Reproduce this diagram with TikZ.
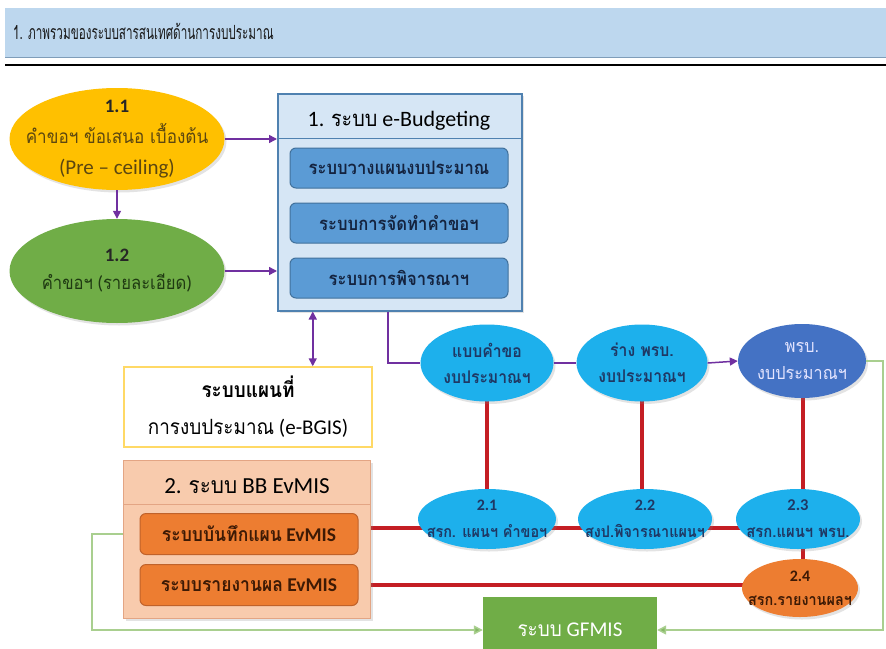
\documentclass[tikz,border=0pt]{standalone}
\usepackage{fontspec}
\setmainfont{Carlito}
\newfontfamily\thf[Script=Thai,FakeStretch=0.9]{Loma}
\newfontfamily\thhead[Script=Thai,FakeStretch=0.6]{Loma}
\usetikzlibrary{shapes.geometric,arrows.meta,backgrounds,shadows}
\definecolor{hdrf}{HTML}{BDD7EE}
\definecolor{hdrb}{HTML}{7F9DB9}
\definecolor{yel}{HTML}{FFC000}
\definecolor{yeltxt}{HTML}{5C4710}
\definecolor{grn}{HTML}{70AD47}
\definecolor{grntxt}{HTML}{1F3A12}
\definecolor{purp}{HTML}{7030A0}
\definecolor{ebf}{HTML}{D6E6F5}
\definecolor{ebb}{HTML}{4F81B0}
\definecolor{ibf}{HTML}{5B9BD5}
\definecolor{ibb}{HTML}{41719C}
\definecolor{ibtxt}{HTML}{14233F}
\definecolor{bgisb}{HTML}{FFD966}
\definecolor{evf}{HTML}{F8CBAD}
\definecolor{evb}{HTML}{E3A584}
\definecolor{org}{HTML}{ED7D31}
\definecolor{orgb}{HTML}{C0622A}
\definecolor{orgtxt}{HTML}{3D1A05}
\definecolor{lblue}{HTML}{1DB0EC}
\definecolor{lbtxt}{HTML}{1F3864}
\definecolor{dblue}{HTML}{4472C4}
\definecolor{redl}{HTML}{C41E24}
\definecolor{gline}{HTML}{A9CF8F}
\definecolor{garr}{HTML}{86B866}
\begin{document}
\begin{tikzpicture}[x=1pt,y=-1pt,
  shad/.style={drop shadow={opacity=0.22,shadow xshift=2pt,shadow yshift=-2.5pt}},
  ell/.style={ellipse,inner sep=0pt,shad},
  etxt/.style={inner sep=0pt,align=center},
  ibox/.style={draw=ibb,line width=1pt,fill=ibf,rounded corners=6pt,minimum width=218pt,minimum height=40pt,text=ibtxt,font=\thf\bfseries\fontsize{18.5}{20}\selectfont},
  obox/.style={draw=orgb,line width=1pt,fill=org,rounded corners=6pt,minimum width=218pt,minimum height=41pt,text=orgtxt,font=\bfseries\fontsize{19.5}{22}\selectfont},
  parr/.style={draw=purp,line width=1.5pt,-{Triangle[length=8pt,width=8pt]}},
  pline/.style={draw=purp,line width=1.5pt},
  redline/.style={draw=redl,line width=4pt},
  gar/.style={draw=gline,line width=1.5pt,-{Triangle[length=9pt,width=9pt,fill=garr]}}
]
\useasboundingbox (0,0) rectangle (886,648);
% header
\node[fill=hdrf,minimum width=881pt,minimum height=49pt,inner sep=0pt,anchor=north west] (hdr) at (5,8) {};
\draw[hdrb,line width=1.5pt] (hdr.south west) -- (hdr.south east);
\node[anchor=west,inner sep=0pt,font=\thhead\fontsize{19.5}{22}\selectfont,text=black!90] (hdrtxt) at (13,31) {1. ภาพรวมของระบบสารสนเทศด้านการงบประมาณ};
\coordinate (rl) at (5,65);
\coordinate (rr) at (886,65);
\draw[black,line width=2pt] (rl) -- (rr);

% ellipses left
\node[ell,fill=yel,minimum width=215pt,minimum height=102pt] (n11) at (117,139) {};
\node[etxt,text=yeltxt,font=\fontsize{21}{31}\selectfont] (n11t) at (n11.center)
  {\textcolor{black!85}{\bfseries\fontsize{19}{31}\selectfont 1.1}\\{\thf\fontsize{19}{31}\selectfont คำขอฯ ข้อเสนอ เบื้องต้น}\\(Pre -- ceiling)};
\node[ell,fill=grn,minimum width=215pt,minimum height=104pt] (n12) at (117,271) {};
\node[etxt,text=grntxt,font=\fontsize{19}{28}\selectfont] (n12t) at (n12.center)
  {\textcolor{black!85}{\bfseries 1.2}\\{\thf\fontsize{18.5}{28}\selectfont คำขอฯ} ({\thf\fontsize{18.5}{28}\selectfont รายละเอียด})};

% e-Budgeting box
\node[draw=ebb,line width=1.5pt,fill=ebf,minimum width=244pt,minimum height=217pt,inner sep=0pt,anchor=north west,shad] (ebud) at (277,93) {};
\node[font=\fontsize{22}{24}\selectfont,text=black] (ebudt) at (399,121) {1. {\thf ระบบ} e-Budgeting};
\coordinate (ebsep) at (0,138);
\draw[ebb,line width=1pt] (ebud.west |- ebsep) -- (ebud.east |- ebsep);
\node[ibox] (ib1) at (399,168) {ระบบวางแผนงบประมาณ};
\node[ibox] (ib2) at (399,223) {ระบบการจัดทำคำขอฯ};
\node[ibox] (ib3) at (399,278) {ระบบการพิจารณาฯ};

\draw[parr] (n11.east) -- (n11.east -| ebud.west);
\draw[parr] (n12.east) -- (n12.east -| ebud.west);
\draw[parr] (n11.south) -- (n12.north);

% e-BGIS
\node[draw=bgisb,line width=1.5pt,fill=white,minimum width=248pt,minimum height=80pt,align=center,font=\fontsize{21}{37}\selectfont,text=black] (bgis) at (248,407)
  {{\thf\bfseries ระบบแผนที่}\\{\thf การงบประมาณ} (e-BGIS)};
\coordinate (dtop) at ([xshift=-87pt]ebud.south);
\draw[draw=purp,line width=1.5pt,{Triangle[length=8pt,width=8pt]}-{Triangle[length=8pt,width=8pt]}] (dtop) -- (dtop |- bgis.north);

% row 1 ellipses
\node[ell,fill=lblue,minimum width=133pt,minimum height=77pt] (A) at (487,363) {};
\node[etxt,text=lbtxt,font=\thf\bfseries\fontsize{17.5}{26}\selectfont] (At) at (A.center) {แบบคำขอ\\งบประมาณฯ};
\node[ell,fill=lblue,minimum width=131pt,minimum height=77pt] (B) at (642,363) {};
\node[etxt,text=lbtxt,font=\thf\bfseries\fontsize{17.5}{26}\selectfont] (Bt) at (B.center) {ร่าง พรบ.\\งบประมาณฯ};
\node[ell,fill=dblue,minimum width=128pt,minimum height=74pt] (C) at (802,361) {};
\node[etxt,text=white!90!blue,font=\thf\fontsize{18}{27}\selectfont] (Ct) at (C.center) {พรบ.\\งบประมาณฯ};

\coordinate (pdown) at ([xshift=-12pt]ebud.south);
\draw[pline] (pdown) |- (A.west);
\draw[pline] (A.east) -- (B.west);
\draw[parr] (B.east) -- (C.west);

% EvMIS box
\node[draw=evb,line width=1pt,fill=evf,minimum width=247pt,minimum height=158pt,inner sep=0pt,anchor=north west,shad] (ev) at (123,460) {};
\node[font=\fontsize{23}{25}\selectfont,text=black] (evt) at (247,486) {2. {\thf ระบบ} BB EvMIS};
\coordinate (evsep) at (0,504);
\draw[evb,line width=1pt] (ev.west |- evsep) -- (ev.east |- evsep);
\node[obox] (ev1) at (249,534) {{\thf ระบบบันทึกแผน} EvMIS};
\node[obox] (ev2) at (249,585) {{\thf ระบบรายงานผล} EvMIS};

% row 2 ellipses
\node[ell,fill=lblue,minimum width=138pt,minimum height=60pt] (e21) at (487,519) {};
\node[etxt,text=lbtxt,font=\bfseries\fontsize{16}{27}\selectfont] (e21t) at (e21.center) {2.1\\{\thf สรก. แผนฯ คำขอฯ}};
\node[ell,fill=lblue,minimum width=134pt,minimum height=60pt] (e22) at (645,519) {};
\node[etxt,text=lbtxt,font=\bfseries\fontsize{16}{27}\selectfont] (e22t) at (e22.center) {2.2\\{\thf สงป.พิจารณาแผนฯ}};
\node[ell,fill=lblue,minimum width=124pt,minimum height=60pt] (e23) at (798,519) {};
\node[etxt,text=lbtxt,font=\bfseries\fontsize{16.5}{27}\selectfont] (e23t) at (e23.center) {2.3\\{\thf สรก.แผนฯ พรบ.}};
\node[ell,fill=org,minimum width=116pt,minimum height=58pt] (e24) at (800,588) {};
\node[etxt,text=orgtxt,font=\bfseries\fontsize{16}{24}\selectfont] (e24t) at (e24.center) {2.4\\{\thf สรก.รายงานผลฯ}};

% GFMIS
\node[fill=grn,minimum width=174pt,minimum height=66pt,inner sep=0pt,text=white,font=\fontsize{21}{23}\selectfont] (gf) at (570,630) {{\thf ระบบ} GFMIS};

% connectors behind
\coordinate (r2) at (0,528);
\coordinate (vA) at (487,0);
\coordinate (vB) at (642,0);
\coordinate (vC) at (803,0);
\begin{scope}[on background layer]
\fill[white] (0,0) rectangle (886,648);
\draw[redline] (A.center) -- (A.center |- r2);
\draw[redline] (vB |- B.center) -- (vB |- r2);
\draw[redline] (vC |- C.center) -- (vC |- e24.center);
\draw[redline] (ev1.east |- r2) -- (e23.center |- r2);
\draw[redline] (ev2.east) -- (ev2.east -| e24.center);
\end{scope}

\coordinate (gl) at (92,0);
\coordinate (gr) at (883,0);
\draw[gar] (ev.west |- ev1.center) -- (gl |- ev1.center) |- (gf.west);
\draw[gar] (C.east) -- (C.east -| gr) |- (gf.east);
\end{tikzpicture}
\end{document}
